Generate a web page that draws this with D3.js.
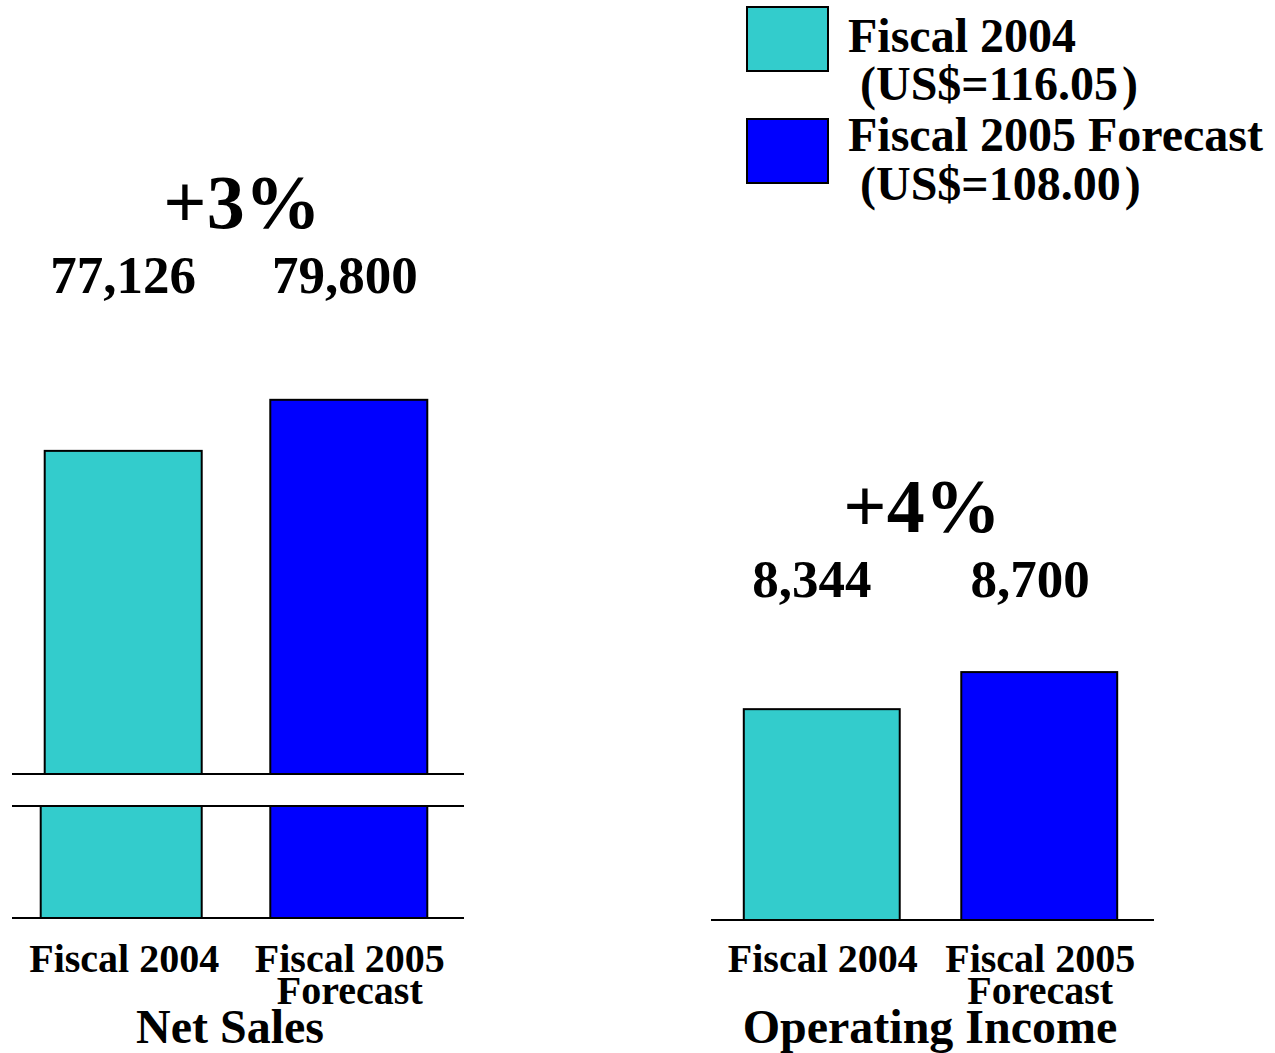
<!DOCTYPE html>
<html>
<head>
<meta charset="utf-8">
<script src="https://cdn.jsdelivr.net/npm/d3@7"></script>
<style>
  body { margin: 0; background: #fff; }
  svg text { font-family: "Liberation Serif", "Times New Roman", serif; font-weight: bold; fill: #000; }
</style>
</head>
<body>
<svg class="chart"></svg>
<script>
// data
var categories = ["Fiscal 2004", "Fiscal 2005 Forecast"];
var catLines = [["Fiscal 2004"], ["Fiscal 2005", "Forecast"]];
var netSales = [77126, 79800];
var opIncome = [8344, 8700];
var netSalesLabels = ["77,126", "79,800"];
var opIncomeLabels = ["8,344", "8,700"];
var growth = ["+3%", "+4%"];
var legendLabels = ["Fiscal 2004", "Fiscal 2005 Forecast"];
var legendRates = ["(US$=116.05\u200a)", "(US$=108.00\u200a)"];
var colors = ["#33cccc", "#0000ff"];

var width = 1275, height = 1053;
var svg = d3.select(".chart").attr("width", width).attr("height", height);

// ---------- Net Sales (broken axis) ----------
var nsX = d3.scaleBand().domain(categories).range([12, 460]).paddingInner(0.304).paddingOuter(0.145);
var nsUpper = d3.scaleLinear().domain([60200, 80000]).range([774, 396]);
var nsLower = d3.scaleLinear().domain([0, 6000]).range([918, 806]).clamp(true);

var ns = svg.append("g");

ns.selectAll("rect.upper")
  .data(netSales)
  .enter().append("rect")
  .attr("class", "upper")
  .attr("x", function(d, i) { return nsX(categories[i]); })
  .attr("width", nsX.bandwidth())
  .attr("y", function(d) { return nsUpper(d); })
  .attr("height", function(d) { return nsUpper(60200) - nsUpper(d); })
  .attr("fill", function(d, i) { return colors[i]; })
  .attr("stroke", "#000").attr("stroke-width", 2);

ns.selectAll("rect.lower")
  .data(netSales)
  .enter().append("rect")
  .attr("class", "lower")
  .attr("x", function(d, i) { return nsX(categories[i]) - (i == 0 ? 4 : 0); })
  .attr("width", function(d, i) { return nsX.bandwidth() + (i == 0 ? 4 : 0); })
  .attr("y", function(d) { return nsLower(d); })
  .attr("height", function(d) { return nsLower(0) - nsLower(d); })
  .attr("fill", function(d, i) { return colors[i]; })
  .attr("stroke", "#000").attr("stroke-width", 2);

// break lines + baseline
[nsUpper(60200), nsLower(6000), nsLower(0)].forEach(function(y) {
  ns.append("line")
    .attr("x1", 12).attr("x2", 464)
    .attr("y1", y).attr("y2", y)
    .attr("stroke", "#000").attr("stroke-width", 2);
});

// ---------- Operating Income ----------
var oiX = d3.scaleBand().domain(categories).range([709, 1152]).paddingInner(0.283).paddingOuter(0.16);
var oiY = d3.scaleLinear().domain([6320, 8720]).range([920, 670]);

var oi = svg.append("g");

oi.selectAll("rect")
  .data(opIncome)
  .enter().append("rect")
  .attr("x", function(d, i) { return oiX(categories[i]); })
  .attr("width", oiX.bandwidth())
  .attr("y", function(d) { return oiY(d); })
  .attr("height", function(d) { return oiY(6320) - oiY(d); })
  .attr("fill", function(d, i) { return colors[i]; })
  .attr("stroke", "#000").attr("stroke-width", 2);

oi.append("line")
  .attr("x1", 711).attr("x2", 1154)
  .attr("y1", oiY(6320)).attr("y2", oiY(6320))
  .attr("stroke", "#000").attr("stroke-width", 2);

// ---------- labels ----------
function panelText(g, x, labels, pct, pctX, valY, nudge, title, titleX) {
  g.append("text")
    .attr("x", pctX).attr("y", valY - 65)
    .attr("text-anchor", "middle")
    .style("font-size", "76px")
    .text(pct);

  g.selectAll("text.val")
    .data(labels)
    .enter().append("text")
    .attr("class", "val")
    .attr("x", function(d, i) { return x(categories[i]) + x.bandwidth() / 2 + nudge[i]; })
    .attr("y", valY)
    .attr("text-anchor", "middle")
    .style("font-size", "53px")
    .text(function(d) { return d; });

  catLines.forEach(function(lines, i) {
    lines.forEach(function(line, j) {
      g.append("text")
        .attr("x", x(categories[i]) + x.bandwidth() / 2 + 1)
        .attr("y", 972 + j * 32)
        .attr("text-anchor", "middle")
        .style("font-size", "40px")
        .text(line);
    });
  });

  g.append("text")
    .attr("x", titleX).attr("y", 1043)
    .attr("text-anchor", "middle")
    .style("font-size", "48px")
    .text(title);
}

panelText(ns, nsX, netSalesLabels, growth[0], 242, 293, [0, -4], "Net Sales", 230);
panelText(oi, oiX, opIncomeLabels, growth[1], 922, 597, [-10, -9], "Operating Income", 930);

// ---------- legend ----------
var legend = svg.append("g");
legendLabels.forEach(function(lbl, i) {
  var top = 7 + i * 112;
  legend.append("rect")
    .attr("x", 747).attr("y", top)
    .attr("width", 81).attr("height", 64)
    .attr("fill", colors[i])
    .attr("stroke", "#000").attr("stroke-width", 2);
  legend.append("text")
    .attr("x", 848).attr("y", 52 + i * 99)
    .style("font-size", "48px")
    .text(lbl);
  legend.append("text")
    .attr("x", 860).attr("y", 100 + i * 100)
    .style("font-size", "48px")
    .text(legendRates[i]);
});
</script>
</body>
</html>
